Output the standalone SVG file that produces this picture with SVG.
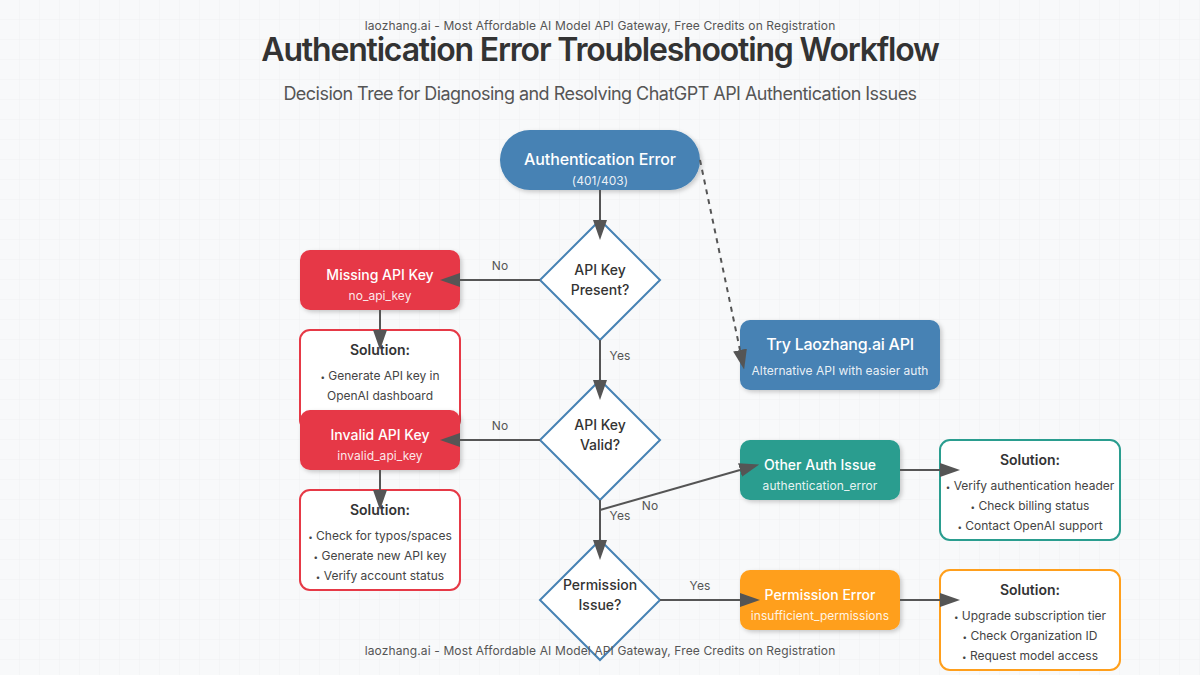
<svg xmlns="http://www.w3.org/2000/svg" width="1200" height="675" viewBox="0 0 1200 675">
<style>
text{font-family:Inter,"Liberation Sans",sans-serif;text-anchor:middle}
.tt{font-size:32px;font-weight:600;fill:#333;letter-spacing:-1.18px}
.st{font-size:18px;fill:#555;letter-spacing:-.53px}
.wm{font-size:12px;fill:#555;letter-spacing:.13px}
.nt{font-size:14px;font-weight:500;fill:#fff}
.ns{font-size:12px;fill:#fff;fill-opacity:.9;letter-spacing:.05px}
.dt{font-size:14px;font-weight:500;fill:#333}
.sh{font-size:14px;font-weight:600;fill:#333}
.si{font-size:12px;fill:#444}
.si tspan{font-size:8px}
.lb{font-size:12px;fill:#555;letter-spacing:.1px}
.c{stroke:#555;stroke-width:2;fill:none;marker-end:url(#a)}
.d{fill:#fff;stroke:#4682b4;stroke-width:2}
.b{stroke-width:2;fill:#fff}
</style>
<defs>
<pattern id="g" width="20" height="20" patternUnits="userSpaceOnUse"><path d="M20 0V20M0 20H20" fill="none" stroke="#f0f1f3" stroke-width="1"/></pattern>
<marker id="a" markerWidth="10" markerHeight="7" refX="0" refY="3.5" orient="auto"><polygon points="0 0,10 3.5,0 7" fill="#555"/></marker>
<filter id="s" x="-20%" y="-20%" width="140%" height="150%"><feDropShadow dx="2" dy="2" stdDeviation="2" flood-color="#000" flood-opacity=".2"/></filter>
</defs>
<rect width="1200" height="675" fill="#f8f9fa"/>
<rect width="1200" height="675" fill="url(#g)"/>
<text class="wm" x="600" y="30">laozhang.ai - Most Affordable AI Model API Gateway, Free Credits on Registration</text>
<text class="tt" x="600" y="61">Authentication Error Troubleshooting Workflow</text>
<text class="st" x="600" y="100">Decision Tree for Diagnosing and Resolving ChatGPT API Authentication Issues</text>

<g id="start"><rect x="500" y="130" width="200" height="60" rx="30" fill="#4682b4" filter="url(#s)"/><text class="nt" style="font-size:16px;letter-spacing:-.1px" x="600" y="165">Authentication Error</text><text class="ns" x="600" y="185">(401/403)</text></g>
<g id="d1"><polygon class="d" points="600,220 660,280 600,340 540,280"/><text class="dt" x="600" y="275">API Key</text><text class="dt" x="600" y="295">Present?</text></g>
<g id="d2"><polygon class="d" points="600,380 660,440 600,500 540,440"/><text class="dt" x="600" y="430">API Key</text><text class="dt" x="600" y="450">Valid?</text></g>
<g id="d3"><polygon class="d" points="600,540 660,600 600,660 540,600"/><text class="dt" x="600" y="590">Permission</text><text class="dt" x="600" y="610">Issue?</text></g>
<g id="sol-missing"><rect class="b" x="300" y="330" width="160" height="100" rx="10" stroke="#e63946"/><text class="sh" x="380" y="355">Solution:</text><text class="si" x="380" y="380"><tspan>•</tspan> Generate API key in</text><text class="si" x="380" y="400">OpenAI dashboard</text></g>
<g id="missing"><rect x="300" y="250" width="160" height="60" rx="10" fill="#e63946" filter="url(#s)"/><text class="nt" x="380" y="280">Missing API Key</text><text class="ns" x="380" y="300">no_api_key</text></g>
<g id="invalid"><rect x="300" y="410" width="160" height="60" rx="10" fill="#e63946" filter="url(#s)"/><text class="nt" x="380" y="440">Invalid API Key</text><text class="ns" x="380" y="460">invalid_api_key</text></g>
<g id="sol-invalid"><rect class="b" x="300" y="490" width="160" height="100" rx="10" stroke="#e63946"/><text class="sh" x="380" y="515">Solution:</text><text class="si" x="380" y="540"><tspan>•</tspan> Check for typos/spaces</text><text class="si" x="380" y="560"><tspan>•</tspan> Generate new API key</text><text class="si" x="380" y="580"><tspan>•</tspan> Verify account status</text></g>
<g id="other"><rect x="740" y="440" width="160" height="60" rx="10" fill="#2a9d8f" filter="url(#s)"/><text class="nt" x="820" y="470">Other Auth Issue</text><text class="ns" x="820" y="490">authentication_error</text></g>
<g id="sol-other"><rect class="b" x="940" y="440" width="180" height="100" rx="10" stroke="#2a9d8f"/><text class="sh" x="1030" y="465">Solution:</text><text class="si" x="1030" y="490"><tspan>•</tspan> Verify authentication header</text><text class="si" x="1030" y="510"><tspan>•</tspan> Check billing status</text><text class="si" x="1030" y="530"><tspan>•</tspan> Contact OpenAI support</text></g>
<g id="perm"><rect x="740" y="570" width="160" height="60" rx="10" fill="#ff9f1c" filter="url(#s)"/><text class="nt" x="820" y="600">Permission Error</text><text class="ns" x="820" y="620">insufficient_permissions</text></g>
<g id="sol-perm"><rect class="b" x="940" y="570" width="180" height="100" rx="10" stroke="#ff9f1c"/><text class="sh" x="1030" y="595">Solution:</text><text class="si" x="1030" y="620"><tspan>•</tspan> Upgrade subscription tier</text><text class="si" x="1030" y="640"><tspan>•</tspan> Check Organization ID</text><text class="si" x="1030" y="660"><tspan>•</tspan> Request model access</text></g>
<g id="try"><rect x="740" y="320" width="200" height="70" rx="10" fill="#4682b4" filter="url(#s)"/><text class="nt" style="font-size:16px;letter-spacing:-.25px" x="840" y="350">Try Laozhang.ai API</text><text class="ns" style="letter-spacing:0" x="840" y="375">Alternative API with easier auth</text></g>

<g id="connectors">
<path class="c" d="M600 190V220"/>
<path class="c" d="M540 280H460"/>
<path class="c" d="M380 310V330"/>
<path class="c" d="M600 340V380"/>
<path class="c" d="M540 440H460"/>
<path class="c" d="M380 470V490"/>
<path class="c" d="M600 500V540"/>
<path class="c" d="M600 510L740 470"/>
<path class="c" d="M900 470H940"/>
<path class="c" d="M660 600H740"/>
<path class="c" d="M900 600H940"/>
<path class="c" stroke-dasharray="5 5" d="M700 160L740 350"/>
</g>
<g id="labels">
<text class="lb" x="500" y="270">No</text>
<text class="lb" x="620" y="360">Yes</text>
<text class="lb" x="500" y="430">No</text>
<text class="lb" x="650" y="510">No</text>
<text class="lb" x="620" y="520">Yes</text>
<text class="lb" x="700" y="590">Yes</text>
</g>
<text class="wm" x="600" y="655">laozhang.ai - Most Affordable AI Model API Gateway, Free Credits on Registration</text>
</svg>
